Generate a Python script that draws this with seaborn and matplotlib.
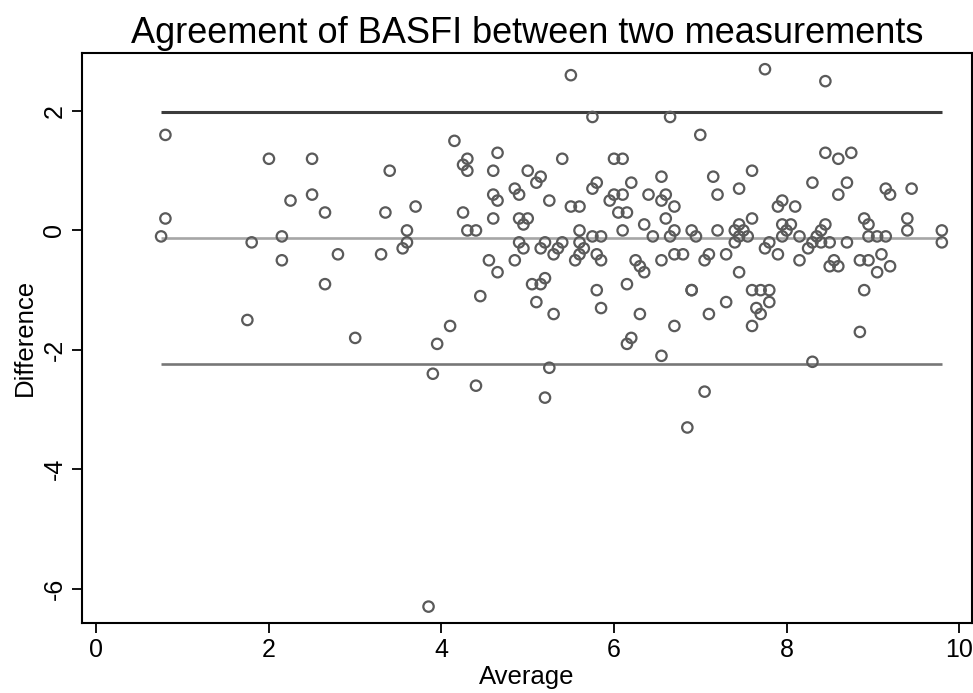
import matplotlib
matplotlib.use("Agg")
import numpy as np
import pandas as pd
import matplotlib.pyplot as plt
import seaborn as sns

# average of the two BASFI measurements (x) and their difference (y)
average = [
    0.75, 0.8, 0.8, 1.75, 1.8, 2.0, 2.15, 2.15, 2.25, 2.5, 2.5, 2.65, 2.65, 2.8,
    3.0, 3.3, 3.35, 3.4, 3.55, 3.6, 3.6, 3.7,
    3.85, 3.9, 3.95, 4.1, 4.15, 4.25, 4.25, 4.3, 4.3, 4.3, 4.4, 4.4, 4.45, 4.55,
    4.6, 4.6, 4.6, 4.65, 4.65, 4.65, 4.85, 4.85, 4.9, 4.9, 4.9, 4.95, 4.95,
    5.0, 5.0, 5.05, 5.1, 5.1, 5.15, 5.15, 5.15, 5.2, 5.2, 5.2, 5.25, 5.25, 5.3,
    5.3, 5.35, 5.4, 5.4, 5.5, 5.5, 5.55, 5.6, 5.6, 5.6, 5.6, 5.65, 5.75, 5.75,
    5.75, 5.8, 5.8, 5.8, 5.85, 5.85, 5.85, 5.95,
    6.0, 6.0, 6.05, 6.1, 6.1, 6.1, 6.15, 6.15, 6.15, 6.2, 6.2, 6.25, 6.3, 6.3,
    6.35, 6.35, 6.4, 6.45, 6.55, 6.55, 6.55, 6.55, 6.6, 6.6, 6.65, 6.65, 6.7,
    6.7, 6.7, 6.7, 6.8, 6.85, 6.9, 6.9, 6.9, 6.95,
    7.0, 7.05, 7.05, 7.1, 7.1, 7.15, 7.2, 7.2, 7.3, 7.3, 7.4, 7.4, 7.45, 7.45,
    7.45, 7.45, 7.5, 7.55, 7.6, 7.6, 7.6, 7.6, 7.65, 7.7, 7.7, 7.75, 7.75, 7.8,
    7.8, 7.8, 7.9, 7.9, 7.95, 7.95, 7.95,
    8.0, 8.05, 8.1, 8.15, 8.15, 8.25, 8.3, 8.3, 8.3, 8.35, 8.4, 8.4, 8.45, 8.45,
    8.45, 8.5, 8.5, 8.55, 8.6, 8.6, 8.6, 8.7, 8.7, 8.75, 8.85, 8.85, 8.9, 8.9,
    8.95, 8.95, 8.95, 9.05, 9.05, 9.1, 9.15, 9.15, 9.2, 9.2, 9.4, 9.4, 9.45,
    9.8, 9.8,
]
difference = [
    -0.1, 1.6, 0.2, -1.5, -0.2, 1.2, -0.1, -0.5, 0.5, 1.2, 0.6, 0.3, -0.9, -0.4,
    -1.8, -0.4, 0.3, 1.0, -0.3, -0.2, 0.0, 0.4,
    -6.3, -2.4, -1.9, -1.6, 1.5, 1.1, 0.3, 1.2, 1.0, 0.0, 0.0, -2.6, -1.1, -0.5,
    1.0, 0.6, 0.2, 1.3, 0.5, -0.7, 0.7, -0.5, 0.6, 0.2, -0.2, 0.1, -0.3,
    1.0, 0.2, -0.9, 0.8, -1.2, 0.9, -0.3, -0.9, -0.2, -0.8, -2.8, 0.5, -2.3, -0.4,
    -1.4, -0.3, 1.2, -0.2, 2.6, 0.4, -0.5, 0.4, 0.0, -0.2, -0.4, -0.3, 1.9, 0.7,
    -0.1, 0.8, -0.4, -1.0, -0.1, -0.5, -1.3, 0.5,
    1.2, 0.6, 0.3, 1.2, 0.6, 0.0, 0.3, -0.9, -1.9, 0.8, -1.8, -0.5, -0.6, -1.4,
    0.1, -0.7, 0.6, -0.1, 0.9, 0.5, -0.5, -2.1, 0.6, 0.2, 1.9, -0.1, 0.4,
    0.0, -0.4, -1.6, -0.4, -3.3, 0.0, -1.0, -1.0, -0.1,
    1.6, -0.5, -2.7, -0.4, -1.4, 0.9, 0.6, 0.0, -0.4, -1.2, 0.0, -0.2, 0.7, 0.1,
    -0.1, -0.7, 0.0, -0.1, 1.0, 0.2, -1.0, -1.6, -1.3, -1.0, -1.4, 2.7, -0.3, -0.2,
    -1.0, -1.2, 0.4, -0.4, 0.5, 0.1, -0.1,
    0.0, 0.1, 0.4, -0.1, -0.5, -0.3, 0.8, -0.2, -2.2, -0.1, 0.0, -0.2, 2.5, 1.3,
    0.1, -0.2, -0.6, -0.5, 1.2, 0.6, -0.6, 0.8, -0.2, 1.3, -0.5, -1.7, 0.2, -1.0,
    0.1, -0.1, -0.5, -0.1, -0.7, -0.4, 0.7, -0.1, 0.6, -0.6, 0.2, 0.0, 0.7,
    0.0, -0.2,
]

# mean difference and limits of agreement as shown on the chart
mean_diff = -0.125
loa_upper = 1.99
loa_lower = -2.24

x_ticks = [0, 2, 4, 6, 8, 10]
y_ticks = [-6, -4, -2, 0, 2]

df = pd.DataFrame({"Average": average, "Difference": difference})

sns.set_theme(style="white")
plt.rcParams['font.family'] = ['Liberation Sans', 'DejaVu Sans']
plt.rcParams['text.color'] = 'black'
plt.rcParams['axes.labelcolor'] = 'black'
plt.rcParams['xtick.color'] = 'black'
plt.rcParams['ytick.color'] = 'black'

fig = plt.figure(figsize=(9.73, 6.93), dpi=100)
ax = fig.add_axes([0.084, 0.1014, 0.915, 0.822])

x0, x1 = df["Average"].min(), df["Average"].max()
ax.hlines(loa_upper, x0, x1, color="#3c3c3c", linewidth=2.2, zorder=1)
ax.hlines(mean_diff, x0, x1, color="#a6a6a6", linewidth=1.9, zorder=1)
ax.hlines(loa_lower, x0, x1, color="#777777", linewidth=1.9, zorder=1)

sns.scatterplot(data=df, x="Average", y="Difference", ax=ax, marker="o", s=56,
                facecolors="none", edgecolor="#5a5a5a", linewidth=1.6, zorder=2)

ax.set_xlim(-0.17, 10.15)
ax.set_ylim(-6.57, 2.97)
ax.set_xticks(x_ticks)
ax.set_yticks(y_ticks)
ax.set_yticklabels([str(t) for t in y_ticks], rotation=90, va="center")
ax.tick_params(axis="both", which="major", labelsize=18, length=7, width=1.3,
               direction="out", bottom=True, left=True, pad=4)
for sp in ax.spines.values():
    sp.set_color("black")
    sp.set_linewidth(1.5)

ax.set_xlabel("Average", fontsize=18.5, labelpad=2)
ax.set_ylabel("Difference", fontsize=18.5, labelpad=4)
ax.set_title("Agreement of BASFI between two measurements", fontsize=26, pad=7)

fig.savefig("out.png", dpi=100)
